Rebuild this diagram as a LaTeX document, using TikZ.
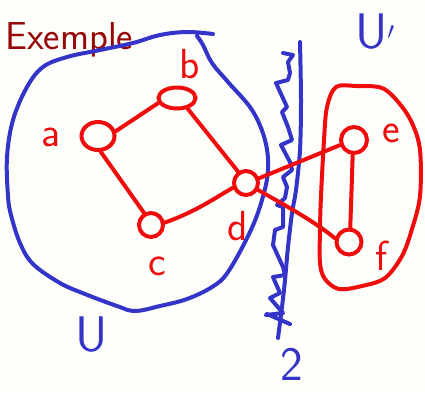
\documentclass[tikz,border=0pt]{standalone}
\usepackage{fontspec}
\usetikzlibrary{shapes.geometric}
\definecolor{penred}{RGB}{238,12,12}
\definecolor{penblue}{RGB}{52,52,200}
\definecolor{titlered}{RGB}{150,8,8}
\definecolor{bgwhite}{RGB}{254,254,250}
\begin{document}
\begin{tikzpicture}[x=1pt,y=-1pt,
  redline/.style={draw=penred,line width=4pt,line cap=round,line join=round},
  blueline/.style={draw=penblue,line width=4pt,line cap=round,line join=round},
  vert/.style={ellipse,draw=penred,line width=4pt,inner sep=0pt},
  redlab/.style={text=penred,font=\sffamily\fontsize{42}{42}\selectfont,inner sep=0pt},
  bluelab/.style={text=penblue,font=\sffamily\fontsize{50}{50}\selectfont,inner sep=0pt}]
\fill[bgwhite] (0,0) rectangle (425,392);
\useasboundingbox (0,0) rectangle (425,392);

\node[anchor=base west,text=titlered,font=\sffamily\fontsize{39}{44}\selectfont,inner sep=0pt] (title) at (5,49) {Exemple};

% blue set U
\draw[blueline] plot[smooth,tension=0.6] coordinates {(213,34) (187,32) (160,35) (133,43) (100,50) (67,57) (43,67) (27,87) (13,120) (7,157) (8,196) (11,215) (20,243) (33,264) (60,283) (85,294) (117,306) (135,311) (160,306) (187,299) (212,287) (228,272) (250,232) (262,200) (268,170) (265,140) (252,110) (228,82) (212,63) (203,45) (197,36)};

% vertical cut line and zigzag
\draw[blueline] plot[smooth] coordinates {(300,42) (301,100) (300,150) (296,190) (292,213) (288,247) (285,280) (282,307) (278,338)};
\draw[blueline] (283,53) -- (293,55) -- (288,62) -- (290,73) -- (288,80) -- (276,83) -- (287,107) -- (282,112) -- (288,127) -- (292,140) -- (281,145) -- (290,162) -- (292,170) -- (283,177) -- (287,187) -- (285,198) -- (277,205) -- (283,207) -- (283,227) -- (275,230) -- (273,245) -- (283,267) -- (285,275) -- (273,277) -- (280,293) -- (270,298) -- (283,313) -- (266,315);
\draw[blueline] (267,314) -- (290,324);

% red set U'
\draw[redline] plot[smooth cycle,tension=0.55] coordinates {(336,87) (356,86) (382,88) (399,103) (412,123) (420,150) (420,196) (412,229) (402,256) (385,278) (362,286) (339,289) (325,279) (320,263) (320,229) (321,196) (324,140) (327,107)};

% vertices
\node[vert,minimum width=33,minimum height=28] (a) at (98,136) {};
\node[vert,minimum width=37,minimum height=21] (b) at (177,98) {};
\node[vert,minimum width=24,minimum height=24] (c) at (151,225) {};
\node[vert,minimum width=24,minimum height=24] (d) at (246,183) {};
\node[vert,minimum width=26,minimum height=26] (e) at (354,140) {};
\node[vert,minimum width=25,minimum height=25] (f) at (349,242) {};

% edges
\draw[redline] (a.15) -- (b.195);
\draw[redline] (a.-80) -- (c.120);
\draw[redline] (b.-45) -- (d.125);
\draw[redline] (c.10) .. controls (195,212) and (215,198) .. (d.200);
\draw[redline] (d.20) -- (e.200);
\draw[redline] (d.-30) .. controls (290,208) and (315,222) .. (f.165);
\draw[redline] (e.-95) -- (f.85);

% labels
\node[redlab] (la) at (51,137) {a};
\node[redlab] (lb) at (190,64) {b};
\node[redlab] (lc) at (157,266) {c};
\node[redlab] (ld) at (238,226) {d};
\node[redlab] (le) at (391,133) {e};
\node[redlab] (lf) at (382,256) {f};
\node[bluelab] (lU) at (92,335) {U};
\node[bluelab] (lU2) at (375,32) {U$'$};
\node[bluelab,font=\sffamily\fontsize{48}{48}\selectfont] (l2) at (292,364) {2};
\end{tikzpicture}
\end{document}
